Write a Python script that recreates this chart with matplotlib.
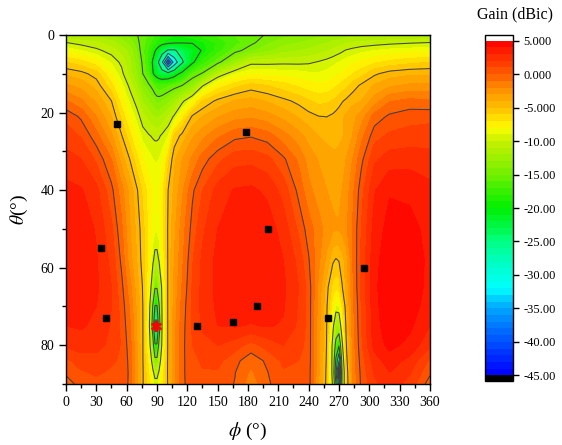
import numpy as np
import matplotlib
matplotlib.use('Agg')
import matplotlib.pyplot as plt
from matplotlib.colors import LinearSegmentedColormap
from matplotlib.ticker import MultipleLocator

plt.rcParams['font.family'] = ['Liberation Serif', 'DejaVu Serif']
plt.rcParams['mathtext.fontset'] = 'stix'

# sample points of the gain map (deg)
phi_nodes = [0, 15, 30, 45, 55, 63, 70, 76, 82, 86,
             88, 90, 92, 95, 101, 107, 115, 125, 135, 150,
             167, 183, 199, 215, 230, 240, 250, 258, 264, 267,
             270, 273, 277, 284, 292, 305, 320, 340, 360]
theta_nodes = [0, 2, 4, 7, 10, 13, 17, 21, 26, 32, 40, 50, 58, 65, 70, 75, 80, 84, 87, 90]

# gain (dBic), one row per theta value
g00 = [-12.0, -12.2, -12.5, -13.1, -13.8, -14.4, -14.9, -15.6, -16.3, -16.8,
       -17.1, -17.4, -17.7, -18.1, -18.6, -18.9, -18.8, -18.3, -17.6, -16.8,
       -16.0, -15.4, -14.9, -14.4, -14.0, -13.6, -13.3, -13.1, -13.0, -12.9,
       -12.8, -12.7, -12.6, -12.5, -12.4, -12.3, -12.2, -12.1, -12.0]
g02 = [-9.95, -10.4, -10.8, -11.6, -12.5, -13.4, -14.6, -15.6, -16.6, -17.4,
       -17.8, -18.2, -18.6, -19.0, -19.5, -19.8, -19.9, -19.9, -19.2, -17.8,
       -16.4, -15.3, -14.2, -13.4, -13.0, -12.7, -12.3, -12.0, -11.7, -11.6,
       -11.5, -11.3, -11.1, -10.9, -10.7, -10.5, -10.3, -10.1, -9.95]
g04 = [-8.4, -9.0, -9.7, -10.5, -11.4, -12.4, -14.0, -15.8, -17.3, -18.8,
       -19.8, -20.6, -21.5, -23.0, -25.5, -25.5, -23.5, -21.3, -19.8, -17.5,
       -15.5, -14.3, -13.3, -12.4, -12.0, -11.8, -11.4, -11.1, -10.8, -10.6,
       -10.4, -10.2, -9.9, -9.6, -9.3, -9.0, -8.7, -8.5, -8.4]
g07 = [-6.0, -6.6, -7.6, -9.2, -10.3, -11.8, -13.5, -15.3, -17.5, -20.5,
       -22.0, -23.5, -25.5, -29.0, -44.0, -33.0, -25.5, -20.5, -17.6, -15.5,
       -12.6, -10.4, -10.4, -10.3, -10.3, -10.2, -9.9, -9.6, -9.3, -9.1,
       -9.0, -8.8, -8.5, -8.2, -7.8, -7.2, -6.7, -6.3, -6.0]
g10 = [-4.2, -4.6, -5.5, -8.0, -9.6, -11.5, -13.0, -15.0, -16.8, -19.8,
       -20.8, -21.5, -22.3, -23.0, -23.0, -21.5, -19.0, -16.0, -14.8, -11.0,
       -9.0, -8.2, -8.3, -8.4, -8.6, -8.8, -8.9, -8.7, -8.4, -8.2,
       -8.1, -7.9, -7.6, -7.0, -6.4, -5.2, -4.5, -4.2, -4.2]
g13 = [-2.8, -3.4, -4.4, -6.7, -8.7, -10.3, -12.0, -13.8, -14.8, -15.6,
       -16.2, -16.6, -16.8, -16.7, -16.2, -15.7, -15.0, -13.4, -10.2, -7.7,
       -6.4, -5.6, -6.0, -6.6, -7.2, -7.6, -7.8, -7.7, -7.4, -7.1,
       -6.9, -6.6, -6.3, -5.5, -4.8, -3.9, -3.2, -2.8, -2.8]
g17 = [-0.9, -1.8, -3.2, -5.0, -7.5, -9.2, -10.5, -12.2, -13.0, -13.6,
       -14.0, -14.3, -14.3, -14.1, -13.4, -12.4, -10.4, -8.3, -6.0, -4.7,
       -3.9, -3.6, -4.1, -4.7, -5.3, -5.9, -6.3, -6.2, -5.9, -5.7,
       -5.4, -5.1, -4.8, -4.3, -4.0, -2.5, -1.1, -0.7, -0.9]
g21 = [0.7, -0.2, -2.0, -4.0, -6.3, -8.1, -9.4, -10.7, -11.4, -11.9,
       -12.1, -12.2, -12.1, -11.8, -11.0, -9.8, -7.5, -4.8, -4.0, -3.1,
       -2.4, -2.2, -2.6, -3.3, -4.1, -4.6, -4.98, -5.02, -4.8, -4.6,
       -4.4, -4.2, -3.8, -3.3, -2.5, -0.6, 0.2, 0.6, 0.7]
g26 = [1.5, 0.9, -0.6, -2.8, -4.9, -6.7, -8.1, -9.4, -9.9, -10.15,
       -10.25, -10.25, -10.15, -9.8, -9.0, -5.8, -4.6, -3.2, -2.3, -1.2,
       -0.3, -0.1, -0.5, -1.6, -2.6, -3.4, -4.0, -4.3, -4.4, -4.4,
       -4.3, -4.1, -3.8, -2.9, -1.4, 0.6, 1.2, 1.4, 1.5]
g32 = [2.4, 2.0, 0.8, -1.0, -3.5, -5.0, -6.7, -7.9, -8.6, -9.0,
       -9.1, -9.1, -9.0, -8.5, -6.4, -4.2, -3.0, -1.8, -0.5, 0.7,
       1.6, 1.7, 1.3, 0.2, -1.2, -2.4, -3.1, -3.5, -3.7, -3.7,
       -3.6, -3.4, -3.0, -1.9, -0.3, 1.8, 2.5, 2.6, 2.4]
g40 = [3.3, 3.1, 2.3, 0.3, -1.6, -3.3, -4.8, -6.3, -7.5, -8.0,
       -8.2, -8.2, -8.0, -7.5, -5.0, -3.8, -2.2, -0.2, 1.0, 2.4,
       3.1, 3.2, 2.8, 1.6, -0.3, -1.7, -2.5, -3.0, -3.2, -3.25,
       -3.2, -3.0, -2.6, -1.2, 0.6, 2.9, 3.9, 3.8, 3.3]
g50 = [3.7, 3.6, 2.9, 1.2, -0.8, -2.9, -4.3, -5.6, -7.4, -8.4,
       -8.8, -8.8, -8.5, -7.6, -4.8, -3.3, -1.5, 0.4, 1.8, 3.0,
       3.6, 3.7, 3.5, 2.6, 0.8, -0.5, -1.6, -2.4, -2.8, -2.9,
       -2.9, -2.7, -2.2, -0.8, 1.0, 3.4, 4.4, 4.3, 3.7]
g58 = [3.8, 3.7, 3.1, 1.7, -0.25, -2.5, -4.0, -5.5, -7.6, -9.7,
       -10.6, -10.6, -9.9, -8.3, -4.8, -3.0, -1.2, 0.9, 2.2, 3.3,
       3.8, 3.9, 3.7, 3.0, 1.7, 0.1, -1.8, -3.3, -4.8, -5.1,
       -4.9, -4.4, -3.6, -0.9, 1.2, 3.7, 4.6, 4.5, 3.8]
g65 = [3.7, 3.6, 3.2, 2.0, 0.3, -1.6, -3.5, -5.1, -8.0, -11.8,
       -14.6, -14.6, -12.5, -9.6, -4.7, -2.8, -0.9, 1.1, 2.3, 3.3,
       3.8, 3.9, 3.7, 3.2, 2.0, 0.6, -2.3, -4.6, -6.4, -6.8,
       -6.5, -5.1, -3.8, -1.0, 1.2, 3.8, 4.7, 4.6, 3.7]
g70 = [3.5, 3.4, 3.0, 2.0, 0.6, -1.1, -3.2, -5.0, -8.5, -15.5,
       -20.3, -20.3, -15.5, -9.8, -4.7, -2.6, -0.6, 1.2, 2.3, 3.2,
       3.7, 3.7, 3.6, 3.1, 1.9, 0.6, -2.5, -4.9, -7.8, -9.2,
       -9.0, -7.0, -4.3, -1.2, 1.0, 3.7, 4.7, 4.5, 3.5]
g75 = [3.0, 3.1, 2.8, 1.9, 0.8, -0.8, -3.0, -4.95, -9.0, -17.0,
       -27.0, -27.0, -17.5, -10.0, -4.7, -2.4, -0.4, 1.1, 2.2, 3.0,
       3.1, 2.9, 3.1, 2.9, 1.8, 0.6, -2.6, -5.05, -9.5, -12.0,
       -12.0, -8.5, -4.8, -1.3, 0.9, 3.6, 4.6, 4.2, 3.0]
g80 = [2.2, 2.6, 2.5, 1.6, 0.9, -0.5, -2.9, -4.95, -8.6, -13.5,
       -19.5, -19.5, -14.0, -9.6, -4.7, -2.3, -0.3, 1.0, 1.6, 2.0,
       1.5, 0.6, 1.4, 2.0, 1.4, 0.6, -2.7, -5.1, -10.8, -16.5,
       -19.5, -10.8, -5.2, -1.5, 0.8, 3.4, 4.3, 3.7, 2.2]
g84 = [0.8, 1.4, 1.5, 1.1, 0.9, -0.3, -2.8, -4.95, -7.5, -11.3,
       -13.8, -13.8, -11.5, -8.5, -4.7, -2.3, -0.2, 0.6, 1.2, 1.3,
       0.3, -0.6, 0.2, 1.2, 1.0, 0.6, -2.8, -5.2, -11.0, -21.0,
       -30.0, -13.0, -5.6, -1.6, 0.5, 2.5, 3.5, 2.7, 0.8]
g87 = [0.2, 0.9, 1.1, 0.9, 0.8, -0.2, -2.8, -4.9, -7.0, -9.6,
       -10.8, -10.8, -9.8, -8.0, -4.7, -2.3, -0.2, 0.6, 0.9, 0.9,
       0.05, -1.2, -0.05, 0.9, 0.8, 0.5, -2.9, -5.3, -11.0, -24.0,
       -44.0, -15.0, -6.0, -1.7, 0.3, 2.1, 3.0, 2.1, 0.2]
g90 = [-0.5, 0.4, 0.8, 0.7, 0.7, -0.2, -2.8, -4.9, -6.8, -8.6,
       -9.3, -9.3, -8.7, -7.5, -4.8, -2.4, -0.2, 0.5, 0.7, 0.6,
       -0.05, -1.6, -0.2, 0.7, 0.7, 0.5, -3.0, -5.35, -10.5, -20.0,
       -32.0, -14.5, -6.2, -1.8, 0.2, 1.8, 2.6, 1.6, -0.5]

# measured directions (squares) and the red star
marker_phi = [50, 178, 35, 200, 295, 40, 130, 165, 189, 259]
marker_theta = [23, 25, 55, 50, 60, 73, 75, 74, 70, 73]
star_phi = [89]
star_theta = [75]

cbar_ticks = [5, 0, -5, -10, -15, -20, -25, -30, -35, -40, -45]
cbar_labels = ['5.000', '0.000', '-5.000', '-10.00', '-15.00', '-20.00',
               '-25.00', '-30.00', '-35.00', '-40.00', '-45.00']

gain = np.array([g00, g02, g04, g07, g10, g13, g17, g21, g26, g32,
                 g40, g50, g58, g65, g70, g75, g80, g84, g87, g90])

# rainbow-like palette
cmap_pos = [-45, -40, -35, -32, -28, -25, -20, -15, -10, -8, -5, -2, 0, 3, 5]
cmap_cols = ['#0000ff', '#0050ff', '#00a8ff', '#00ffff', '#00ffc0', '#00ff80',
             '#00f000', '#70f000', '#c8f000', '#ffff00', '#ffc000', '#ff8c00',
             '#ff5a00', '#ff2800', '#ff0000']
pos = [(p + 45) / 50 for p in cmap_pos]
cmap = LinearSegmentedColormap.from_list('gain', list(zip(pos, cmap_cols)))
cmap.set_under('black')
cmap.set_over('white')

levels = np.arange(-45, 6, 1)
line_levels = np.arange(-40, 1, 5)

fig = plt.figure(figsize=(5.62, 4.45), dpi=100)
ax = fig.add_axes([0.1174, 0.1371, 0.6477, 0.7843])

cf = ax.contourf(phi_nodes, theta_nodes, gain, levels=levels, cmap=cmap,
                 vmin=-45, vmax=5, extend='both')
ax.contour(phi_nodes, theta_nodes, gain, levels=line_levels,
           colors='#404040', linewidths=0.75, linestyles='solid')

ax.plot(marker_phi, marker_theta, 's', color='black', ms=5, zorder=5)
ax.plot(star_phi, star_theta, marker=(6, 2, 0), color='red', ms=8, mew=1.5,
        ls='none', zorder=6)

ax.set_xlim(0, 360)
ax.set_ylim(90, 0)
ax.xaxis.set_major_locator(MultipleLocator(30))
ax.xaxis.set_minor_locator(MultipleLocator(15))
ax.yaxis.set_major_locator(MultipleLocator(20))
ax.yaxis.set_minor_locator(MultipleLocator(10))
ax.tick_params(which='both', direction='out', top=False, right=False,
               labelsize=10, width=1)
ax.tick_params(which='major', length=5)
ax.tick_params(which='minor', length=3)
for s in ax.spines.values():
    s.set_linewidth(1)

ax.set_xlabel(r'$\phi$ (°)', fontsize=14)
ax.set_ylabel(r'$\theta$(°)', fontsize=14)
ax.xaxis.set_label_coords(0.5, -0.105)
ax.yaxis.set_label_coords(-0.1, 0.5)

cax = fig.add_axes([0.863, 0.1438, 0.0498, 0.7775])
cbar = fig.colorbar(cf, cax=cax, ticks=cbar_ticks, extendrect=True,
                    extendfrac=0.017, drawedges=False)
cbar.ax.set_yticklabels(cbar_labels)
cbar.ax.tick_params(labelsize=9, length=4, width=1, direction='out')
cbar.outline.set_linewidth(1)
fig.text(0.916, 0.968, 'Gain (dBic)', ha='center', va='center', fontsize=11.5)

fig.savefig('out.png', dpi=100)
